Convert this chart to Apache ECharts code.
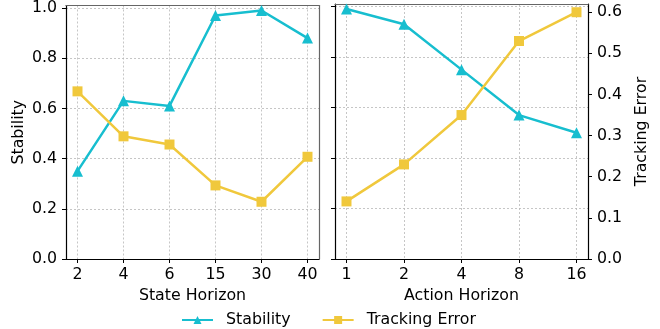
<!DOCTYPE html>
<html>
<head>
<meta charset="utf-8">
<script src="https://cdn.jsdelivr.net/npm/echarts@6/dist/echarts.min.js"></script>
<style>
html,body{margin:0;padding:0;background:#fff;}
#c{width:660px;height:329px;}
</style>
</head>
<body>
<div id="c"></div>
<script>
// ---- data ----
const stateCats = ['2', '4', '6', '15', '30', '40'];
const stateStability = [0.35, 0.63, 0.61, 0.97, 0.99, 0.88];
const stateTracking = [0.41, 0.30, 0.28, 0.18, 0.14, 0.25];

const actionCats = ['1', '2', '4', '8', '16'];
const actionStability = [0.99, 0.93, 0.75, 0.57, 0.50];
const actionTracking = [0.14, 0.23, 0.35, 0.53, 0.60];

const stabilityTicks = [0, 0.2, 0.4, 0.6, 0.8, 1.0];
const trackingTicks = [0, 0.1, 0.2, 0.3, 0.4, 0.5, 0.6];

// ---- styling ----
const FONT = 'DejaVu Sans';
const FS = 15.8;
const TEAL = '#17becf';
const YEL = '#f0c83c';
const GRID_LINE = {show: true, lineStyle: {color: '#b8b8b8', width: 0.8, type: [2, 2]}};

function idx(arr) { return arr.map((_, i) => i); }
function pairs(vals) { return vals.map((v, i) => [i, v]); }

function xAxisBottom(gridIndex, cats, name) {
  const pad = (cats.length - 1) * 0.05;
  return {
    type: 'value', gridIndex, position: 'bottom',
    min: -pad, max: cats.length - 1 + pad,
    name, nameLocation: 'middle', nameGap: 28,
    nameTextStyle: {fontFamily: FONT, fontSize: FS, color: '#000'},
    axisLine: {show: true, onZero: false, lineStyle: {color: '#000', width: 1.2}},
    axisTick: {show: true, length: 4, inside: false, customValues: idx(cats), lineStyle: {color: '#000'}},
    axisLabel: {customValues: idx(cats), formatter: v => cats[Math.round(v)], fontFamily: FONT, fontSize: FS, color: '#000', margin: 8},
    splitLine: GRID_LINE
  };
}
function xAxisTop(gridIndex, cats) {
  const pad = (cats.length - 1) * 0.05;
  return {
    type: 'value', gridIndex, position: 'top',
    min: -pad, max: cats.length - 1 + pad,
    axisLine: {show: true, onZero: false, lineStyle: {color: '#666', width: 1.2}},
    axisTick: {show: false}, axisLabel: {show: false}, splitLine: {show: false}
  };
}

const option = {
  animation: false,
  backgroundColor: '#fff',
  textStyle: {fontFamily: FONT},
  legend: {
    top: 307, left: 176,
    itemWidth: 31, itemHeight: 10, itemGap: 31,
    textStyle: {fontFamily: FONT, fontSize: FS, color: '#000', padding: [0, 0, 0, 8]},
    data: ['Stability', 'Tracking Error']
  },
  grid: [
    {left: 66, right: 341, top: 4, bottom: 70},
    {left: 335, right: 72, top: 4, bottom: 70}
  ],
  xAxis: [
    xAxisBottom(0, stateCats, 'State Horizon'),
    xAxisTop(0, stateCats),
    xAxisBottom(1, actionCats, 'Action Horizon'),
    xAxisTop(1, actionCats)
  ],
  yAxis: [
    { // left panel stability
      type: 'value', gridIndex: 0, position: 'left', min: 0, max: 1.01,
      name: 'Stability', nameLocation: 'middle', nameGap: 39, nameRotate: 90,
      nameTextStyle: {fontFamily: FONT, fontSize: FS, color: '#000'},
      axisLine: {show: true, onZero: false, lineStyle: {color: '#000', width: 1.2}},
      axisTick: {show: true, length: 4, customValues: stabilityTicks, lineStyle: {color: '#000'}},
      axisLabel: {customValues: stabilityTicks, formatter: v => v.toFixed(1), fontFamily: FONT, fontSize: FS, color: '#000', margin: 9},
      splitLine: GRID_LINE
    },
    { // left panel tracking (twin, no labels)
      type: 'value', gridIndex: 0, position: 'right', min: 0, max: 0.62,
      axisLine: {show: true, onZero: false, lineStyle: {color: '#666', width: 1.2}},
      axisTick: {show: false}, axisLabel: {show: false}, splitLine: {show: false}
    },
    { // right panel stability (shared, no labels)
      type: 'value', gridIndex: 1, position: 'left', min: 0, max: 1.01,
      axisLine: {show: true, onZero: false, lineStyle: {color: '#000', width: 1.2}},
      axisTick: {show: true, length: 4, customValues: stabilityTicks, lineStyle: {color: '#000'}},
      axisLabel: {show: false, customValues: stabilityTicks},
      splitLine: GRID_LINE
    },
    { // right panel tracking
      type: 'value', gridIndex: 1, position: 'right', min: 0, max: 0.62,
      name: 'Tracking Error', nameLocation: 'middle', nameGap: 46, nameRotate: 90,
      nameTextStyle: {fontFamily: FONT, fontSize: FS, color: '#000'},
      axisLine: {show: true, onZero: false, lineStyle: {color: '#000', width: 1.2}},
      axisTick: {show: true, length: 4, customValues: trackingTicks, lineStyle: {color: '#000'}},
      axisLabel: {customValues: trackingTicks, formatter: v => v.toFixed(1), fontFamily: FONT, fontSize: FS, color: '#000', margin: 9},
      splitLine: {show: false}
    }
  ],
  series: [
    {name: 'Stability', type: 'line', xAxisIndex: 0, yAxisIndex: 0, data: pairs(stateStability),
     symbol: 'triangle', symbolSize: 11, color: TEAL, lineStyle: {width: 2.5, color: TEAL}, itemStyle: {color: TEAL}, z: 3},
    {name: 'Tracking Error', type: 'line', xAxisIndex: 0, yAxisIndex: 1, data: pairs(stateTracking),
     symbol: 'rect', symbolSize: 10, color: YEL, lineStyle: {width: 2.5, color: YEL}, itemStyle: {color: YEL}, z: 4},
    {name: 'Stability', type: 'line', xAxisIndex: 2, yAxisIndex: 2, data: pairs(actionStability),
     symbol: 'triangle', symbolSize: 11, color: TEAL, lineStyle: {width: 2.5, color: TEAL}, itemStyle: {color: TEAL}, z: 3},
    {name: 'Tracking Error', type: 'line', xAxisIndex: 2, yAxisIndex: 3, data: pairs(actionTracking),
     symbol: 'rect', symbolSize: 10, color: YEL, lineStyle: {width: 2.5, color: YEL}, itemStyle: {color: YEL}, z: 4}
  ]
};

const chart = echarts.init(document.getElementById('c'), null, {renderer: 'canvas'});
chart.setOption(option);
</script>
</body>
</html>
